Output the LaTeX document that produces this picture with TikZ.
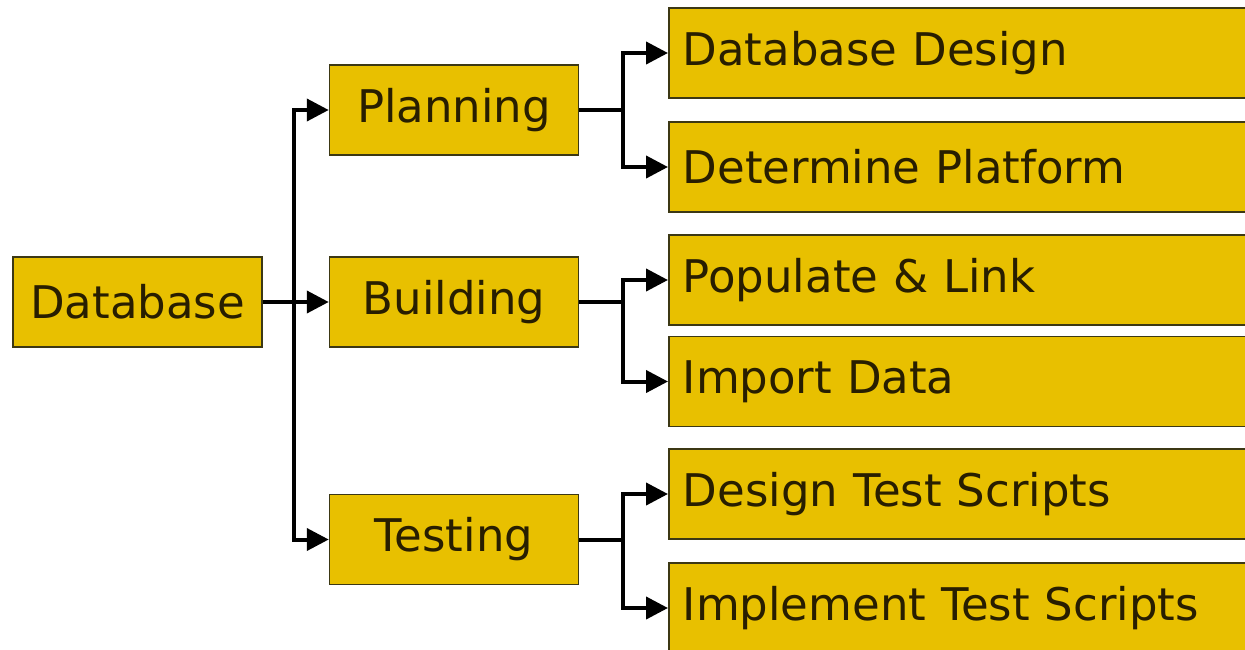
\documentclass[tikz,border=0pt]{standalone}
\usepackage{fontspec}
\setmainfont{DejaVu Sans}
\usetikzlibrary{calc, positioning}
\usetikzlibrary{arrows.meta}
\definecolor{boxfill}{RGB}{232,192,0}
\definecolor{boxline}{RGB}{60,56,20}
\definecolor{boxtext}{RGB}{40,30,0}
\def\mw{249pt}
\def\mh{90pt}
\def\tw{590pt}
\tikzset{
    border/.style = {
        draw=boxline, fill=boxfill, rectangle, line width=1.5pt, text=boxtext,
        font=\fontsize{45}{54}\selectfont, inner sep=0pt
    },
    phase/.style = {
        border, minimum width=\mw, minimum height=\mh, align=center
    },
    task/.style = {
        border, anchor=west, minimum height=\mh, text width=\tw, inner xsep=14pt, align=left
    },
}
\begin{document}
\begin{tikzpicture}[x=1pt, y=-1pt]
        \useasboundingbox (0,0) rectangle (1245,649);
        \clip (0,0) rectangle (1245,649);

        % Place the blocks
        \node [phase] (db) at (137.5,302) {Database};
        \node [phase] (plan) at (454,110) {Planning};
        \node [phase] (build) at (454,302) {Building};
        \node [phase] (test) at (454,539.5) {Testing};

        \node [task] (dbdesign) at (668,53) {Database Design};
        \node [task] (platform) at (668,167) {Determine Platform};
        \node [task] (populate) at (668,280) {Populate \& Link};
        \node [task] (import) at (668,381.5) {Import Data};
        \node [task] (testdesign) at (668,494) {Design Test Scripts};
        \node [task] (testimpl) at (668,608) {Implement Test Scripts};

        % Draw connections
        \begin{scope}[line width=4pt, >={Triangle[width=22pt,length=22pt]}]
            \draw[-] (db.east) -- ++(31,0) coordinate(split);
            \draw[->] (split) |- (plan.west);
            \draw[->] (split) -- (build.west);
            \draw[->] (split) |- (test.west);
            \foreach \mid/\up/\dn in {plan/dbdesign/platform, build/populate/import, test/testdesign/testimpl}{
                \draw[-] (\mid.east) -- ++(44,0) coordinate(\mid-fork);
                \draw[->] (\mid-fork) |- (\up.west);
                \draw[->] (\mid-fork) |- (\dn.west);
            }
        \end{scope}
    \end{tikzpicture}
\end{document}
